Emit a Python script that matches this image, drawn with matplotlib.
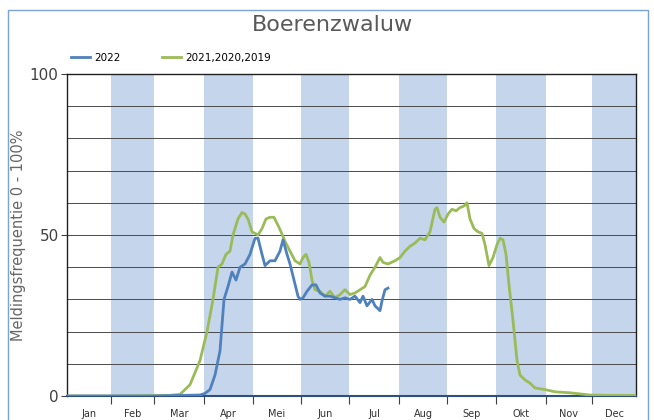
import matplotlib
matplotlib.use("Agg")
import matplotlib.pyplot as plt
import numpy as np
from matplotlib.patches import Rectangle

# Month edges in day-of-year units
month_edges = [0, 28, 56, 88, 119, 150, 181, 213, 244, 275, 307, 337, 365]
month_labels = ["Jan", "Feb", "Mar", "Apr", "Mei", "Jun", "Jul", "Aug", "Sep", "Okt", "Nov", "Dec"]
shaded_months = [1, 3, 5, 7, 9, 11]

# Series (x in pixel-read positions converted to days; y in %)
px_green = [67, 120, 170, 180, 190, 200, 207, 213, 218, 222, 226, 230, 233, 238, 242, 245, 248, 252,
            258, 262, 266, 270, 274, 278, 281, 285, 290, 295, 300, 303, 306, 309, 312, 315, 320,
            325, 330, 335, 340, 345, 350, 355, 360, 365, 370, 375, 380, 383, 388, 395, 400, 405,
            410, 415, 420, 425, 430, 435, 437, 440, 444, 448, 452, 456, 460, 464, 467, 470, 474,
            478, 482, 485, 489, 493, 497, 500, 503, 506, 509, 513, 517, 520, 525, 530, 535, 545,
            555, 570, 590, 610, 636]
val_green = [0, 0, 0.2, 0.5, 3.5, 11, 20, 30, 40, 41, 44, 45, 50, 55, 57, 56.5, 55, 51,
             50, 52, 55, 55.5, 55.5, 53, 51, 48, 45, 42, 41, 43, 44, 41.5, 36, 33, 32.5,
             31, 32.5, 30.5, 31.5, 33, 31.5, 32, 33, 34, 37.5, 40, 43, 41.5, 41, 42, 43, 45,
             46.5, 47.5, 49, 48.5, 51, 58, 58.5, 55.5, 54, 56.5, 58, 57.5, 58.5, 59, 60, 55, 52,
             51, 50.5, 47, 40.5, 43, 47, 49, 48.5, 44, 34.5, 23.5, 11, 6.5, 5, 4, 2.5, 2,
             1.3, 1, 0.3, 0.2, 0.2]

px_blue = [67, 150, 200, 205, 210, 215, 220, 224, 228, 232, 236, 240, 245, 250, 255, 258, 262, 265,
           270, 275, 280, 283, 287, 290, 294, 298, 300, 303, 307, 312, 316, 320, 325, 330, 335,
           340, 345, 350, 355, 360, 363, 367, 372, 375, 380, 382, 385, 388]
val_blue = [0, 0, 0.3, 0.8, 2, 6.5, 14, 30, 34, 38.5, 36, 40, 41, 44, 49, 49, 44, 40.5,
            42, 42, 45, 48.5, 44, 41, 36, 31, 30, 30.5, 32.5, 34.5, 34.5, 32, 31, 31, 30.5,
            30, 30.5, 30, 31, 29, 31, 28, 30, 28, 26.5, 29.5, 33, 33.5]

x_green = [(p - 67) * 365 / 569 for p in px_green]
x_blue = [(p - 67) * 365 / 569 for p in px_blue]

fig = plt.figure(figsize=(6.54, 4.20), dpi=100)
fig.patch.set_facecolor("white")
fig.patches.append(Rectangle((8 / 654, -0.02), 640 / 654, 1 - 10 / 420 + 0.02,
                             transform=fig.transFigure, fill=False,
                             edgecolor="#7da2d6", linewidth=1.0))

ax = fig.add_axes([67 / 654, 1 - 396 / 420, (636 - 67) / 654, (396 - 74) / 420])

for m in shaded_months:
    ax.axvspan(month_edges[m], month_edges[m + 1], color="#c5d5eb", lw=0, zorder=0)

for yv in range(10, 100, 10):
    ax.axhline(yv, color="#4a4a4a", lw=0.7, zorder=1)

ax.plot(x_green, val_green, color="#9bbb59", lw=2.0, zorder=3, label="2021,2020,2019")
ax.plot(x_blue, val_blue, color="#4f81bd", lw=2.0, zorder=4, label="2022")

ax.set_xlim(0, 365)
ax.set_ylim(0, 100)
ax.set_yticks([0, 50, 100])
ax.set_yticklabels(["0", "50", "100"], fontsize=11, color="#404040")
ax.tick_params(axis="y", length=4, color="#404040", pad=2)

ax.set_xticks(month_edges[1:-1])
ax.set_xticklabels([])
ax.tick_params(axis="x", length=6, direction="out", color="#404040")
centers = [(month_edges[i] + month_edges[i + 1]) / 2 for i in range(12)]
for c, lab in zip(centers, month_labels):
    ax.text(c, -4, lab, ha="center", va="top", fontsize=7, color="#303030",
            transform=ax.transData)

for s in ["left", "top", "right"]:
    ax.spines[s].set_color("#202020")
    ax.spines[s].set_linewidth(1.0)
ax.spines["bottom"].set_color("#2f4f80")
ax.spines["bottom"].set_linewidth(1.5)

ax.set_ylabel("Meldingsfrequentie 0 - 100%", fontsize=10.5, color="#666666")
ax.yaxis.set_label_coords(-0.072, 0.5)

fig.text(333 / 654, 1 - 25 / 420, "Boerenzwaluw", ha="center", va="center",
         fontsize=16, color="#595959")

h, l = ax.get_legend_handles_labels()
leg = fig.legend([h[1], h[0]], [l[1], l[0]], loc="center left",
                 bbox_to_anchor=(62 / 654, 1 - 58 / 420), ncol=2, frameon=False,
                 fontsize=7.5, handlelength=1.8, columnspacing=4.0, handletextpad=0.4)

fig.savefig("out.png", dpi=100)
